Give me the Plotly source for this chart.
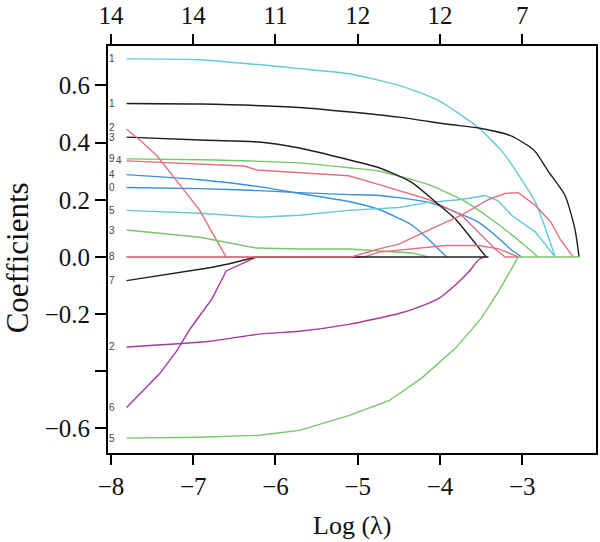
import plotly.graph_objects as go

# ---- data (log lambda, coefficient) ----
a_x = [-7.81, -6.92, -5.71, -5.11, -4.50, -4.02, -3.53, -3.23, -3.08, -2.84, -2.60]
a_y = [0.693, 0.690, 0.659, 0.641, 0.600, 0.548, 0.451, 0.364, 0.302, 0.191, 0.0]

b_x = [-7.81, -6.92, -5.71, -4.50, -3.90, -3.53, -3.13, -2.89, -2.83, -2.69, -2.48, -2.36, -2.31]
b_y = [0.537, 0.535, 0.523, 0.489, 0.464, 0.451, 0.423, 0.381, 0.364, 0.302, 0.215, 0.097, 0.0]

c_x = [-7.81, -7.65, -7.44, -7.25, -7.04, -6.92, -6.77, -6.60]
c_y = [0.447, 0.409, 0.354, 0.284, 0.205, 0.163, 0.085, 0.0]

d_x = [-7.81, -6.92, -6.20, -5.71, -5.11, -4.74, -4.34, -4.05, -3.81, -3.65, -3.44]
d_y = [0.419, 0.409, 0.402, 0.381, 0.340, 0.312, 0.260, 0.191, 0.132, 0.076, 0.0]

e_x = [-7.81, -6.92, -5.71, -5.11, -4.74, -4.14, -3.74, -3.41, -3.17, -2.99, -2.81]
e_y = [0.343, 0.340, 0.329, 0.312, 0.300, 0.253, 0.201, 0.139, 0.087, 0.045, 0.0]

f_x = [-7.81, -6.92, -6.38, -6.23, -5.71, -5.11, -4.74, -4.14, -3.74, -3.53, -3.33, -3.21, -3.05]
f_y = [0.336, 0.326, 0.318, 0.304, 0.295, 0.284, 0.253, 0.201, 0.146, 0.087, 0.028, 0.0, 0.0]

g_x = [-7.81, -6.92, -6.20, -5.71, -5.11, -4.74, -4.50, -4.34, -4.14, -4.02, -3.92]
g_y = [0.288, 0.270, 0.246, 0.222, 0.194, 0.166, 0.135, 0.111, 0.062, 0.028, 0.0]

h_x = [-7.81, -6.92, -6.20, -5.71, -5.11, -4.74, -4.14, -3.74, -3.53, -3.33, -3.13, -3.01]
h_y = [0.243, 0.239, 0.232, 0.225, 0.218, 0.215, 0.191, 0.149, 0.121, 0.076, 0.024, 0.0]

i_x = [-7.81, -6.92, -6.20, -5.71, -5.11, -4.50, -4.14, -3.74, -3.45, -3.29, -3.13, -2.84, -2.60]
i_y = [0.163, 0.153, 0.139, 0.146, 0.163, 0.173, 0.191, 0.201, 0.215, 0.195, 0.146, 0.087, 0.0]

j_x = [-7.81, -6.92, -6.23, -5.71, -5.11, -4.50, -4.34, -4.14]
j_y = [0.094, 0.069, 0.031, 0.028, 0.028, 0.017, 0.014, 0.0]

k_x = [-7.81, -5.08, -4.74, -4.50, -4.14, -3.74, -3.41, -3.21, -3.05, -2.84, -2.65, -2.54, -2.38]
k_y = [0.0, 0.0, 0.028, 0.045, 0.094, 0.146, 0.201, 0.222, 0.225, 0.180, 0.121, 0.062, 0.0]

l_x = [-7.81, -4.92, -4.74, -4.34, -3.93, -3.53, -3.29, -3.05]
l_y = [0.0, 0.0, 0.017, 0.028, 0.040, 0.040, 0.028, 0.0]

m_x = [-7.81, -7.25, -6.80, -6.56, -6.23, -3.41]
m_y = [-0.083, -0.059, -0.038, -0.024, 0.0, 0.0]

n_x = [-7.81, -6.80, -6.20, -5.71, -5.11, -4.50, -4.30, -4.02, -3.81, -3.65, -3.53, -3.45]
n_y = [-0.315, -0.295, -0.270, -0.260, -0.236, -0.198, -0.180, -0.146, -0.097, -0.052, -0.010, 0.0]

o_x = [-7.81, -6.92, -6.20, -5.71, -5.11, -4.62, -4.22, -3.81, -3.50, -3.29, -3.17, -3.05, -2.31]
o_y = [-0.634, -0.631, -0.624, -0.607, -0.555, -0.503, -0.423, -0.319, -0.215, -0.121, -0.062, 0.0, 0.0]

p_x = [-7.81, -7.61, -7.41, -7.20, -7.04, -6.92, -6.77, -6.60, -6.23]
p_y = [-0.527, -0.468, -0.409, -0.329, -0.253, -0.205, -0.146, -0.049, 0.0]

x_ticks = [-8, -7, -6, -5, -4, -3]
x_tick_text = ["\u22128", "\u22127", "\u22126", "\u22125", "\u22124", "\u22123"]
top_tick_text = ["14", "14", "11", "12", "12", "7"]
y_ticks = [0.6, 0.4, 0.2, 0.0, -0.2, -0.4, -0.6]
y_tick_text = ["0.6", "0.4", "0.2", "0.0", "\u22120.2", "", "\u22120.6"]

label_x = [-7.985, -7.985, -7.985, -7.985, -7.985, -7.905, -7.985, -7.985, -7.985, -7.985,
           -7.985, -7.985, -7.985, -7.985, -7.985]
label_y = [0.693, 0.537, 0.454, 0.419, 0.343, 0.336, 0.288, 0.243, 0.163, 0.094, 0.0, -0.083,
           -0.315, -0.527, -0.634]
label_text = ["1", "1", "2", "3", "9", "4", "4", "0", "5", "3", "8", "7", "2", "6", "5"]

BLACK = "#1f1f1f"
RED = "#E3707F"
GREEN = "#78C768"
BLUE = "#3A90DA"
CYAN = "#62C9D7"
MAGENTA = "#A8399B"

# draw order (later drawn on top)
curves = [
    (a_x, a_y, CYAN, "spline"),
    (b_x, b_y, BLACK, "spline"),
    (g_x, g_y, BLUE, "spline"),
    (h_x, h_y, BLUE, "spline"),
    (i_x, i_y, CYAN, "linear"),
    (e_x, e_y, GREEN, "spline"),
    (f_x, f_y, RED, "linear"),
    (d_x, d_y, BLACK, "spline"),
    (c_x, c_y, RED, "linear"),
    (n_x, n_y, MAGENTA, "spline"),
    (p_x, p_y, MAGENTA, "linear"),
    (j_x, j_y, GREEN, "linear"),
    (l_x, l_y, RED, "linear"),
    (m_x, m_y, BLACK, "linear"),
    (k_x, k_y, RED, "linear"),
    (o_x, o_y, GREEN, "linear"),
]

fig = go.Figure()
for xs, ys, col, shape in curves:
    line = dict(color=col, width=1.4, shape=shape)
    if shape == "spline":
        line["smoothing"] = 0.6
    fig.add_trace(go.Scatter(x=xs, y=ys, mode="lines", line=line,
                             showlegend=False, hoverinfo="skip"))

# invisible trace for the top axis
fig.add_trace(go.Scatter(x=x_ticks, y=[0] * len(x_ticks), xaxis="x2", mode="lines",
                         line=dict(width=0), opacity=0, showlegend=False, hoverinfo="skip"))

XR = [-8.036, -2.104]
YR = [-0.686, 0.738]
TF = dict(family="Liberation Serif", size=25, color="#111")

fig.update_layout(
    width=600, height=542,
    margin=dict(l=108, r=2, t=42, b=89),
    paper_bgcolor="white", plot_bgcolor="white",
    font=TF,
    xaxis=dict(range=XR, tickvals=x_ticks, ticktext=x_tick_text, ticks="outside",
               ticklen=10, tickwidth=2, tickcolor="black", showline=True,
               linecolor="black", linewidth=2, mirror=True, showgrid=False,
               zeroline=False, tickfont=TF),
    xaxis2=dict(range=XR, overlaying="x", side="top", tickvals=x_ticks,
                ticktext=top_tick_text, ticks="outside", ticklen=11, tickwidth=2,
                tickcolor="black", showline=False, showgrid=False, zeroline=False,
                tickfont=TF),
    yaxis=dict(range=YR, tickvals=y_ticks, ticktext=y_tick_text, ticks="outside",
               ticklen=11, tickwidth=2, tickcolor="black", showline=True,
               linecolor="black", linewidth=2, mirror=True, showgrid=False,
               zeroline=False, tickfont=TF),
)

annotations = [
    dict(text="Coefficients", xref="paper", yref="paper", x=-0.185, y=0.48,
         textangle=-90, showarrow=False, xanchor="center", yanchor="middle",
         font=dict(family="Liberation Serif", size=31, color="#111")),
    dict(text="Log (\u03bb)", xref="paper", yref="paper", x=0.5, y=-0.178,
         showarrow=False, xanchor="center", yanchor="middle",
         font=dict(family="Liberation Serif", size=26, color="#111")),
]
for lx, ly, lt in zip(label_x, label_y, label_text):
    annotations.append(dict(text=lt, x=lx, y=ly, xref="x", yref="y", showarrow=False,
                            xanchor="center", yanchor="middle",
                            font=dict(family="Liberation Sans", size=10, color="#444")))
fig.update_layout(annotations=annotations)

fig.write_html("out.html")
